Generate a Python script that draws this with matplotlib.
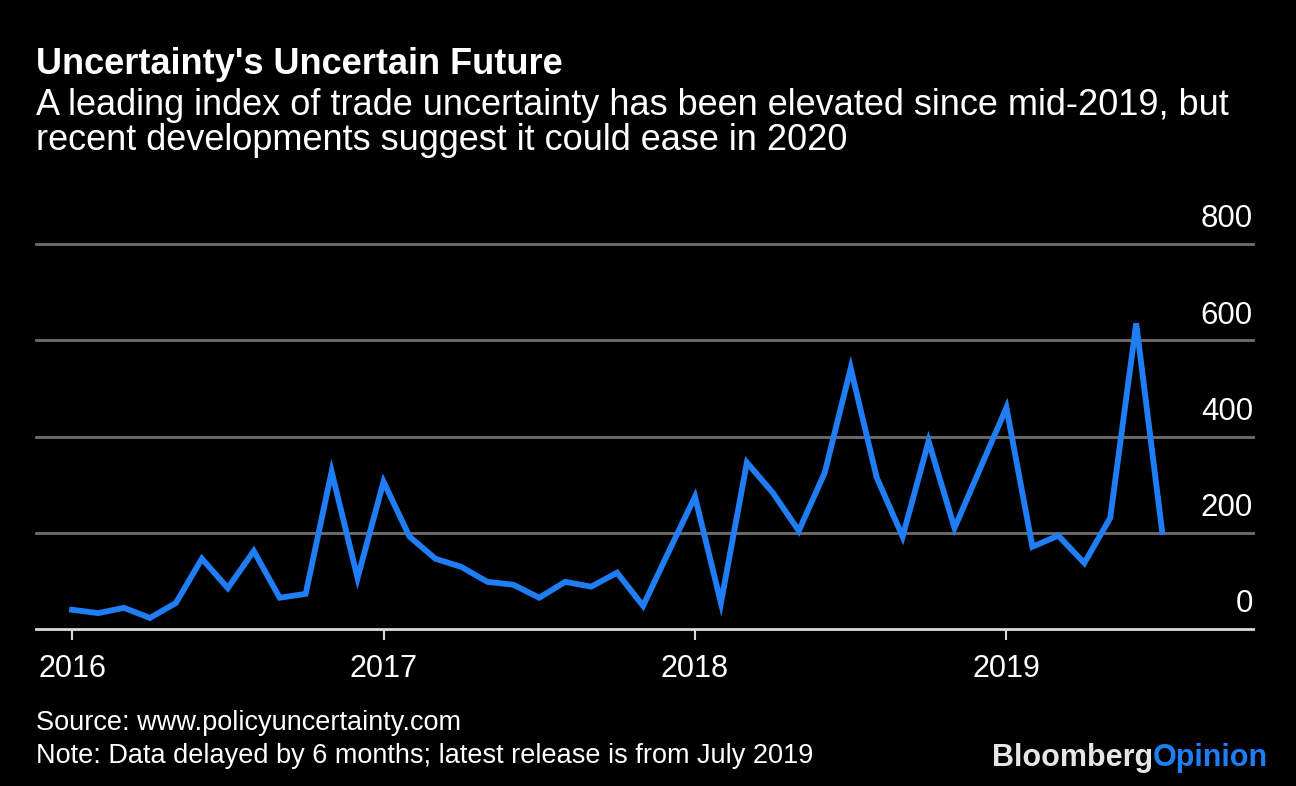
import matplotlib
import matplotlib.pyplot as plt
import numpy as np

matplotlib.use("Agg")

# Monthly trade policy uncertainty index, Jan 2016 - Jul 2019
months = np.arange(43)
values = [
    40, 33, 44, 23, 54, 146, 85, 162, 65, 73, 327, 106,   # 2016
    306, 192, 146, 129, 98, 92, 65, 98, 88, 117, 48, 162,  # 2017
    275, 54, 346, 283, 204, 325, 542, 315, 192, 390, 210, 335,  # 2018
    460, 171, 194, 137, 231, 635, 202,  # 2019
]
year_ticks = [0, 12, 24, 36]
year_labels = ["2016", "2017", "2018", "2019"]
y_ticks = [0, 200, 400, 600, 800]

title = "Uncertainty's Uncertain Future"
subtitle = ["A leading index of trade uncertainty has been elevated since mid-2019, but",
            "recent developments suggest it could ease in 2020"]
source = "Source: www.policyuncertainty.com"
note = "Note: Data delayed by 6 months; latest release is from July 2019"

plt.rcParams["font.family"] = ["Liberation Sans", "DejaVu Sans"]

W, H = 1296, 786
fig = plt.figure(figsize=(12.96, 7.86), dpi=100, facecolor="black")
ax = fig.add_axes([36 / W, 1 - 629 / H, (1253 - 36) / W, (629 - 244) / H])
ax.set_facecolor("black")

ax.plot(months, values, color="#1f7ef5", lw=4.2, solid_joinstyle="miter", zorder=3)

ax.set_xlim(-1.39, 45.5)
ax.set_ylim(0, 800)

# gridlines with labels sitting above them on the right
for v in y_ticks:
    if v == 0:
        ax.axhline(v, color="#d9d9d9", lw=2, zorder=2, clip_on=False)
    else:
        ax.axhline(v, color="#6e6e6e", lw=2, zorder=1, clip_on=False)
    ax.annotate(str(v), xy=(1.0, v), xycoords=("axes fraction", "data"),
                xytext=(0, 12), textcoords="offset points",
                ha="right", va="baseline", color="white", fontsize=22.5)

for s in ax.spines.values():
    s.set_visible(False)
ax.set_yticks([])
ax.set_xticks(year_ticks)
ax.set_xticklabels(year_labels, color="white", fontsize=22)
ax.tick_params(axis="x", length=8, width=1.5, color="#d9d9d9", pad=10)

fig.text(36 / W, 1 - 74 / H, title, color="white", fontsize=26,
         fontweight="bold", va="baseline", ha="left")
fig.text(36 / W, 1 - 115 / H, subtitle[0], color="white", fontsize=26,
         va="baseline", ha="left")
fig.text(36 / W, 1 - 150 / H, subtitle[1], color="white", fontsize=26,
         va="baseline", ha="left")

fig.text(36 / W, 1 - 730 / H, source, color="white", fontsize=19.5,
         va="baseline", ha="left")
fig.text(36 / W, 1 - 763 / H, note, color="white", fontsize=19.5,
         va="baseline", ha="left")

t1 = fig.text(1268 / W, 1 - 766 / H, "Opinion", color="#1f7ef5", fontsize=22,
              fontweight="bold", va="baseline", ha="right")
fig.canvas.draw()
bb = t1.get_window_extent()
fig.text(bb.x0 / W, 1 - 766 / H, "Bloomberg", color="#e6e6e6", fontsize=22,
         fontweight="bold", va="baseline", ha="right")

fig.savefig("out.png", dpi=100, facecolor="black")
